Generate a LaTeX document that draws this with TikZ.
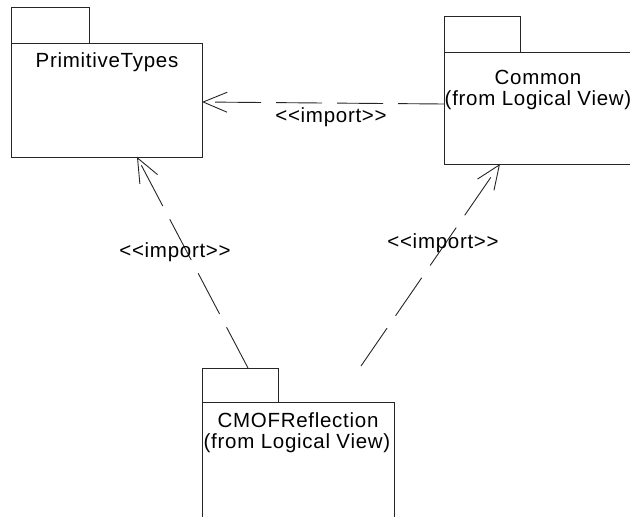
\documentclass[tikz,border=0pt]{standalone}
\usepackage{fontspec}
\setmainfont{Liberation Sans}[LetterSpace=3.5]
\usetikzlibrary{arrows.meta}
\begin{document}
\begin{tikzpicture}[x=1pt,y=-1pt,
  pkg/.style={draw=black!85, line width=1pt, fill=white, inner sep=0pt, outer sep=0pt},
  lbl/.style={font=\fontsize{20.5}{22}\selectfont, inner sep=0pt},
  dep/.style={draw=black!85, line width=0.9pt, dash pattern=on 46pt off 15pt,
    -{Straight Barb[length=24pt,width=20pt,line width=0.9pt]}}
]
\useasboundingbox (0,0) rectangle (630,517);
\clip (0,0) rectangle (630,517);
% PrimitiveTypes
\node[pkg, anchor=north west, minimum width=191pt, minimum height=114pt] (prim) at (11,43) {};
\node[pkg, anchor=south west, minimum width=78pt, minimum height=36pt] (primtab) at (11,43) {};
\node[lbl] (primname) at (107,62) {PrimitiveTypes};
% Common
\node[pkg, anchor=north west, minimum width=200pt, minimum height=112pt] (cm) at (444,52) {};
\node[pkg, anchor=south west, minimum width=76pt, minimum height=36pt] (cmtab) at (444,52) {};
\node[lbl] (cmname) at (538,77) {Common};
\node[lbl] (cmfrom) at (538,100) {(from Logical View)};
% CMOFReflection
\node[pkg, anchor=north west, minimum width=192pt, minimum height=130pt] (cf) at (202,402) {};
\node[pkg, anchor=south west, minimum width=76pt, minimum height=34pt] (cftab) at (202,402) {};
\node[lbl] (cfname) at (298,420) {CMOFReflection};
\node[lbl] (cffrom) at (297,443) {(from Logical View)};
% connector end points
\coordinate (cmL) at (444,104);
\coordinate (prR) at (202,102);
\coordinate (cfA) at (248,368);
\coordinate (prB) at (137,157);
\coordinate (cfB) at (361,366);
\coordinate (cmB) at (500,164);
\draw[dep] (cmL) -- (prR);
\draw[dep] (cfA) -- (prB);
\draw[dep] (cfB) -- (cmB);
% labels
\node[lbl] (l1) at (331,117) {{<}{<}import{>}{>}};
\node[lbl] (l2) at (175,252) {{<}{<}import{>}{>}};
\node[lbl] (l3) at (443,243) {{<}{<}import{>}{>}};
\end{tikzpicture}
\end{document}
